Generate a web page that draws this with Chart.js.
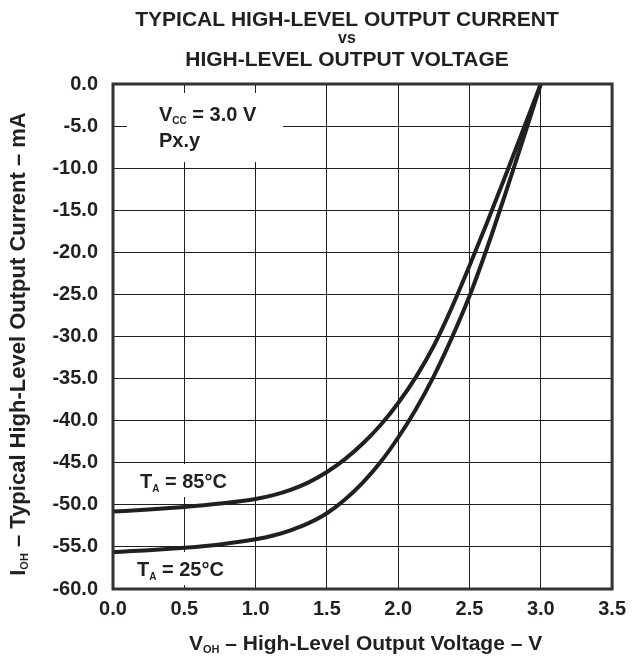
<!DOCTYPE html>
<html>
<head>
<meta charset="utf-8">
<script src="https://cdn.jsdelivr.net/npm/chart.js@4.4.1/dist/chart.umd.min.js"></script>
<style>
  html, body { margin: 0; padding: 0; background: #fff; }
  #wrap { width: 634px; height: 656px; }
</style>
</head>
<body>
<div id="wrap"><canvas id="chart" width="634" height="656"></canvas></div>
<script>
// data
var voltage = [0, 0.25, 0.5, 0.75, 1.0, 1.125, 1.25, 1.375, 1.5, 1.625, 1.75, 1.875, 2.0,
               2.125, 2.25, 2.375, 2.5, 2.625, 2.75, 2.875, 3.0];
var current85 = [-50.8, -50.55, -50.25, -49.85, -49.3, -48.85, -48.2, -47.3, -46.1, -44.6, -42.75, -40.55, -37.9,
                 -34.8, -31.1, -26.6, -21.6, -16.4, -11.0, -5.5, 0];
var current25 = [-55.6, -55.4, -55.1, -54.7, -54.1, -53.65, -53.0, -52.15, -51.0, -49.4, -47.4, -44.95, -42.0,
                 -38.6, -34.7, -30.2, -25.2, -19.4, -13.1, -6.6, 0];
var xTicks = [0, 0.5, 1.0, 1.5, 2.0, 2.5, 3.0, 3.5];
var yTicks = [0, -5, -10, -15, -20, -25, -30, -35, -40, -45, -50, -55, -60];

var INK = '#231f20';
var FONT = '"Liberation Sans", Arial, Helvetica, sans-serif';

function toPoints(xs, ys) {
    return xs.map(function (x, i) { return { x: x, y: ys[i] }; });
}

// draws a run of text pieces (main text + subscripts) starting at x
function drawRun(ctx, x, y, parts) {
    parts.forEach(function (p) {
        ctx.font = 'bold ' + p[1] + 'px ' + FONT;
        ctx.fillText(p[0], x, y + (p[2] || 0));
        x += ctx.measureText(p[0]).width;
    });
}

function runWidth(ctx, parts) {
    var w = 0;
    parts.forEach(function (p) {
        ctx.font = 'bold ' + p[1] + 'px ' + FONT;
        w += ctx.measureText(p[0]).width;
    });
    return w;
}

var decorations = {
    id: 'decorations',
    beforeDatasetsDraw: function (chart) {
        var ctx = chart.ctx;
        ctx.save();
        ctx.fillStyle = '#fff';
        ctx.fillRect(127, 93, 156, 69);
        ctx.fillRect(133, 464, 122, 33);
        ctx.fillRect(133, 552, 122, 33);
        ctx.restore();
    },
    afterDraw: function (chart) {
        var ctx = chart.ctx;
        var a = chart.chartArea;
        ctx.save();

        // frame
        ctx.strokeStyle = '#333';
        ctx.lineWidth = 3;
        ctx.strokeRect(a.left, a.top, a.right - a.left, a.bottom - a.top);

        ctx.fillStyle = INK;
        ctx.textBaseline = 'alphabetic';

        // title
        ctx.textAlign = 'center';
        ctx.font = 'bold 21px ' + FONT;
        ctx.fillText('TYPICAL HIGH-LEVEL OUTPUT CURRENT', 347, 26);
        ctx.font = 'bold 16px ' + FONT;
        ctx.fillText('vs', 347, 43);
        ctx.font = 'bold 21px ' + FONT;
        ctx.fillText('HIGH-LEVEL OUTPUT VOLTAGE', 347, 66);
        ctx.textAlign = 'left';

        // x axis title
        var xParts = [['V', 21], ['OH', 11, 3], [' \u2013 High-Level Output Voltage \u2013 V', 21]];
        var cx = (a.left + a.right) / 2;
        drawRun(ctx, cx - runWidth(ctx, xParts) / 2 + 3, 650, xParts);

        // y axis title
        var yParts = [['I', 22], ['OH', 11, 3], [' \u2013 Typical High-Level Output Current \u2013 mA', 22]];
        ctx.save();
        ctx.translate(25, 344);
        ctx.rotate(-Math.PI / 2);
        drawRun(ctx, -runWidth(ctx, yParts) / 2, 0, yParts);
        ctx.restore();

        // labels inside the plot
        drawRun(ctx, 159, 121, [['V', 20], ['CC', 10, 3], [' = 3.0 V', 20]]);
        drawRun(ctx, 159, 147, [['Px.y', 20]]);
        drawRun(ctx, 140, 488, [['T', 20], ['A', 10, 4], [' = 85\u00b0C', 20]]);
        drawRun(ctx, 137, 576, [['T', 20], ['A', 10, 4], [' = 25\u00b0C', 20]]);

        ctx.restore();
    }
};

var lineStyle = {
    borderColor: INK,
    borderWidth: 4,
    pointRadius: 0,
    fill: false,
    cubicInterpolationMode: 'monotone'
};

new Chart(document.getElementById('chart'), {
    type: 'line',
    data: {
        datasets: [
            Object.assign({ label: 'TA = 85°C', data: toPoints(voltage, current85) }, lineStyle),
            Object.assign({ label: 'TA = 25°C', data: toPoints(voltage, current25) }, lineStyle)
        ]
    },
    options: {
        responsive: false,
        animation: false,
        events: [],
        layout: { padding: { top: 84, right: 15, left: 0, bottom: 0 } },
        plugins: {
            legend: { display: false },
            tooltip: { enabled: false },
            title: { display: false }
        },
        scales: {
            x: {
                type: 'linear',
                min: 0,
                max: 3.5,
                afterFit: function (scale) { scale.height = 67; },
                afterBuildTicks: function (scale) {
                    scale.ticks = xTicks.map(function (v) { return { value: v }; });
                },
                ticks: {
                    color: INK,
                    padding: 8,
                    maxRotation: 0,
                    font: { family: FONT, size: 20, weight: 'bold' },
                    callback: function (v) { return Number(v).toFixed(1); }
                },
                grid: { color: INK, lineWidth: 1, drawTicks: false },
                border: { display: false }
            },
            y: {
                type: 'linear',
                min: -60,
                max: 0,
                afterFit: function (scale) { scale.width = 113; },
                afterBuildTicks: function (scale) {
                    scale.ticks = yTicks.map(function (v) { return { value: v }; });
                },
                ticks: {
                    color: INK,
                    padding: 15,
                    font: { family: FONT, size: 20, weight: 'bold' },
                    callback: function (v) { return Number(v).toFixed(1); }
                },
                grid: { color: INK, lineWidth: 1, drawTicks: false },
                border: { display: false }
            }
        }
    },
    plugins: [decorations]
});
</script>
</body>
</html>
